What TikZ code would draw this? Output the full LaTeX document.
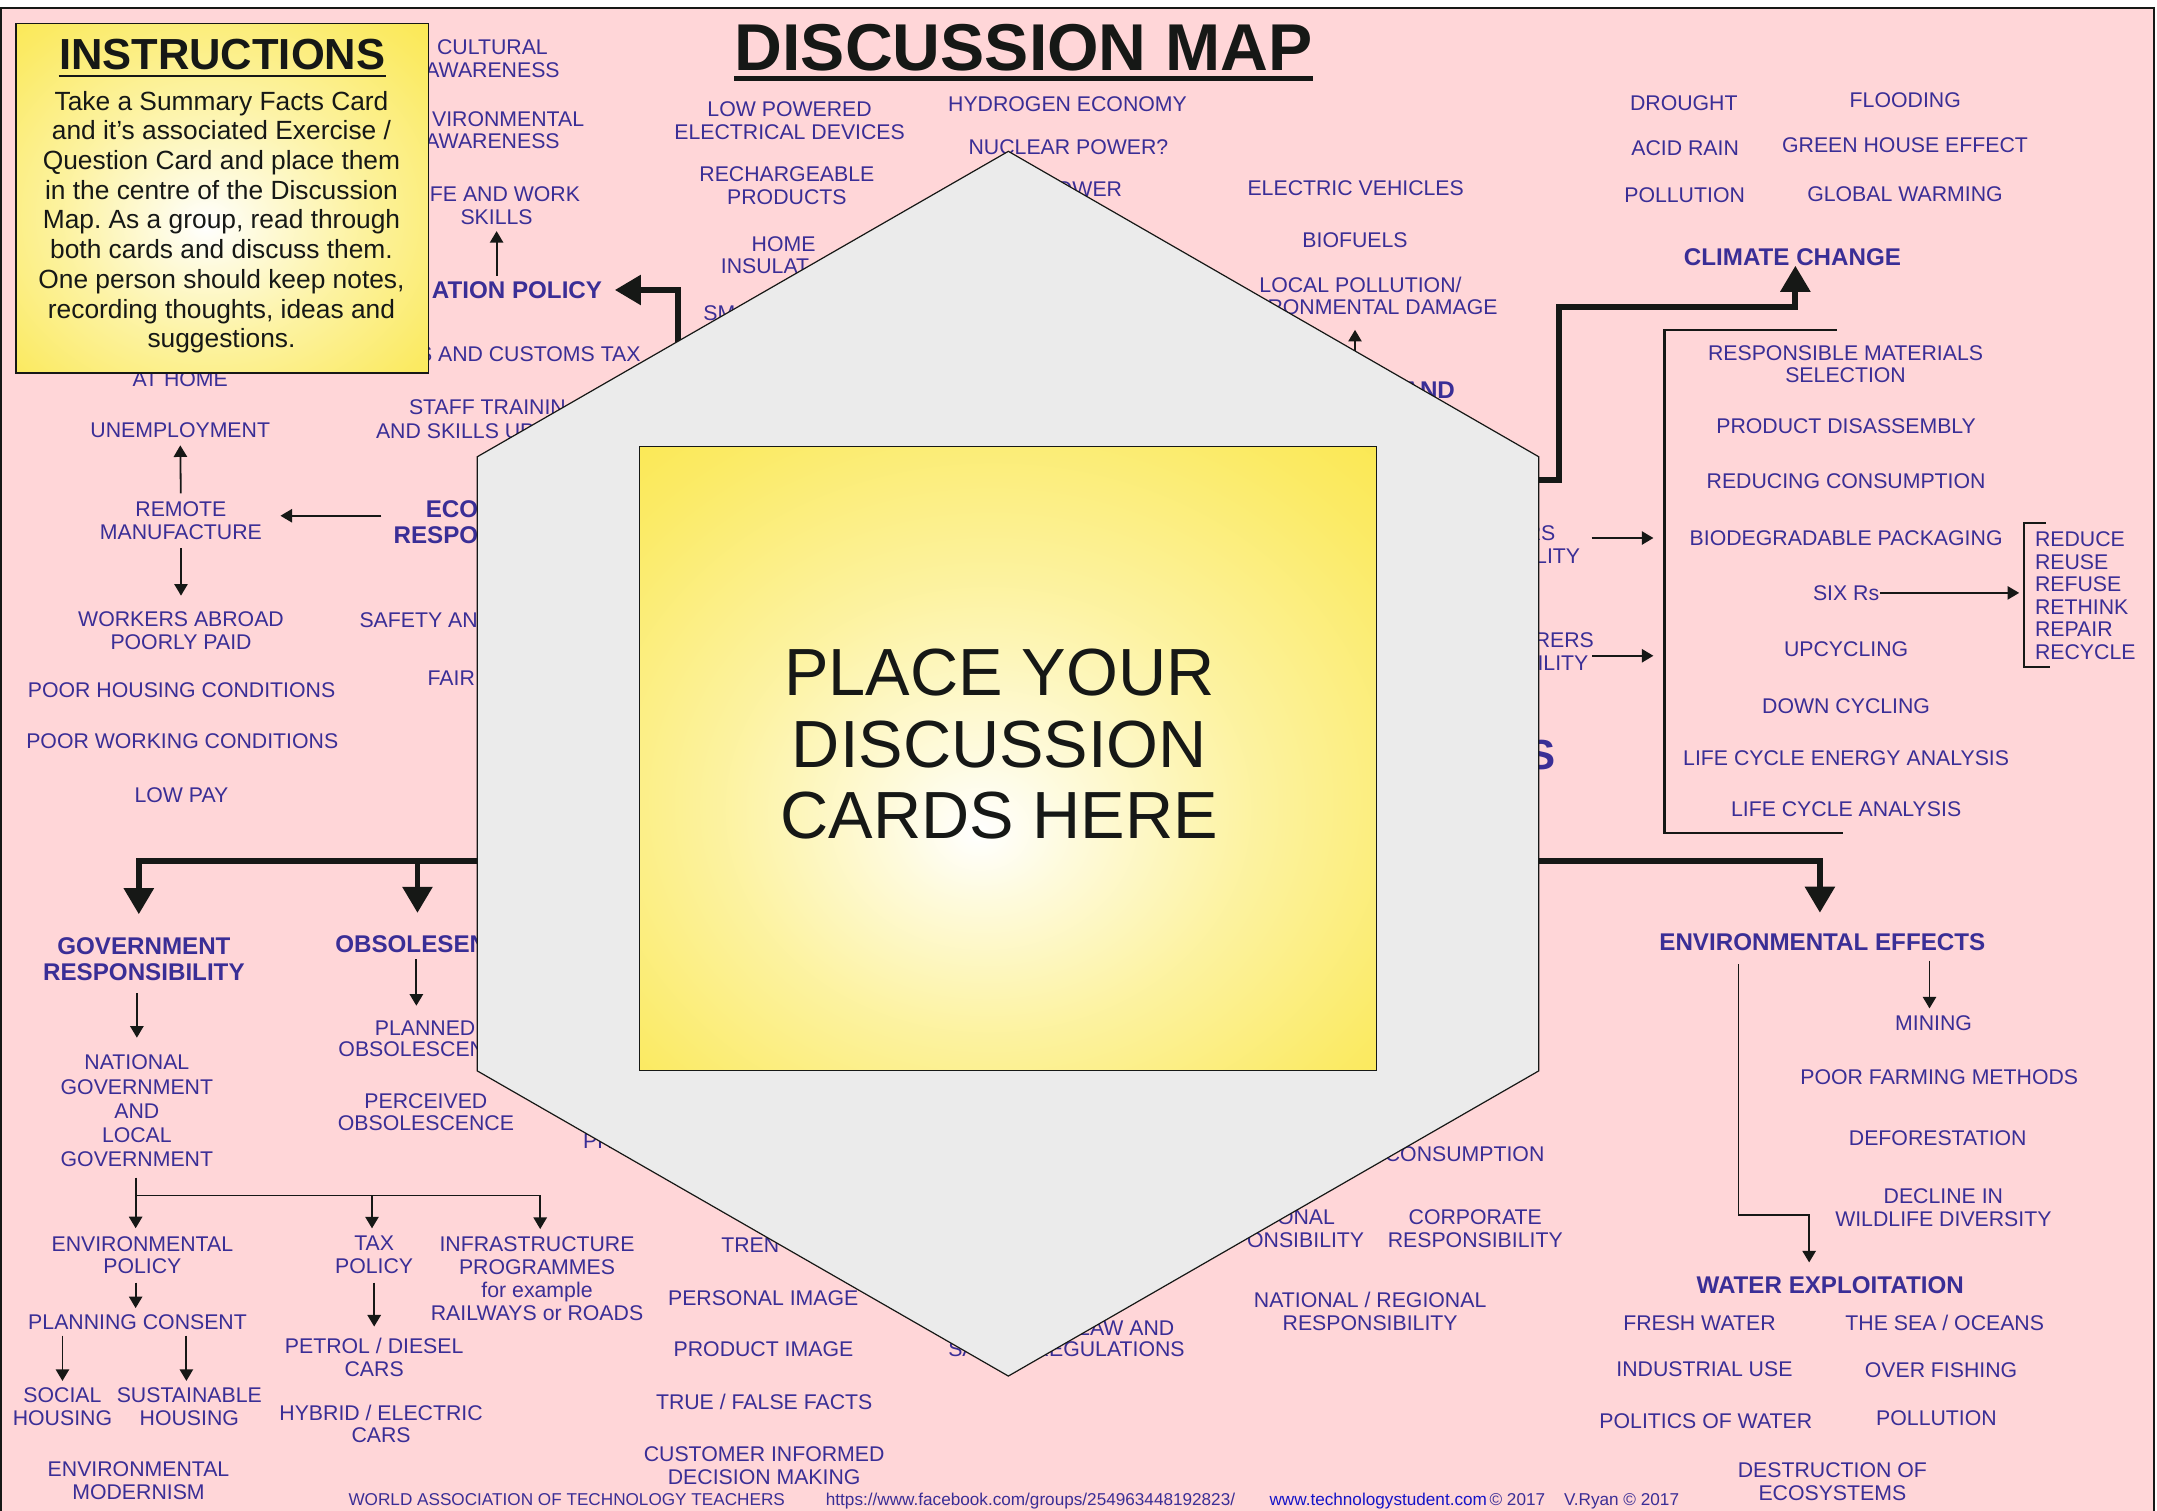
\documentclass[tikz,border=0pt]{standalone}
\usepackage{fontspec}
\setmainfont{Liberation Sans}
\usepackage{xcolor}
\usetikzlibrary{positioning}
\usetikzlibrary{arrows.meta}

\definecolor{mapblue}{RGB}{58,46,150}
\definecolor{mappink}{RGB}{255,214,216}
\definecolor{hexgrey}{RGB}{235,235,235}
\definecolor{cardyellow}{RGB}{249,225,30}
\definecolor{inkblack}{RGB}{22,24,22}
\definecolor{linkblue}{RGB}{20,20,200}

\pgfdeclareradialshading{cardglow}{\pgfpoint{-2bp}{-6bp}}{color(0bp)=(white); color(6bp)=(cardyellow!15); color(18bp)=(cardyellow!42); color(32bp)=(cardyellow!68); color(45bp)=(cardyellow!88); color(56bp)=(cardyellow)}
\pgfdeclareradialshading{notesglow}{\pgfpoint{-2bp}{-4bp}}{color(0bp)=(white); color(6bp)=(cardyellow!15); color(18bp)=(cardyellow!42); color(32bp)=(cardyellow!68); color(45bp)=(cardyellow!88); color(56bp)=(cardyellow)}

\begin{document}
\frenchspacing
\begin{tikzpicture}[x=0.02cm, y=-0.02cm,
    word/.style={text=mapblue, font=\fontsize{8.8}{9.4}\selectfont, align=center, inner sep=0pt},
    topic/.style={word, font=\bfseries\fontsize{10}{10.8}\selectfont},
    footnote/.style={text=mapblue, font=\fontsize{7.1}{8}\selectfont, inner sep=0pt, anchor=base west},
    link/.style={draw=inkblack, line width=0.75pt, -{Triangle[length=4.8pt,width=5.5pt]}},
    mainlink/.style={draw=inkblack, line width=2.4pt, -{Triangle[length=10.8pt,width=12pt]}},
    bracketrule/.style={draw=inkblack, line width=0.9pt}]
\useasboundingbox (0,0) rectangle (1568,1098);

% sheet
\draw[fill=mappink, draw=inkblack, line width=0.8pt] (0.4,6) rectangle (1566,1110);

% title
\node[text=inkblack, font=\bfseries\fontsize{27.4}{30}\selectfont, inner sep=0pt] (title) at (744,35) {DISCUSSION MAP};
\draw[inkblack, line width=2pt] ([yshift=-2.8pt]title.south west) -- ([yshift=-2.8pt]title.south east);

% left side
\node[word] (cultural) at (358,42.5) {CULTURAL\\AWARENESS};
\node[word, anchor=east] (envaware) at (425,86.6) {VIRONMENTAL};
\node[word] (envaware2) at (358,102.4) {AWARENESS};
\node[word, anchor=east] (lifework) at (422,141.2) {IFE AND WORK};
\node[word] (skills) at (361,157.6) {SKILLS};
\node[topic, anchor=east] (educ) at (438,210.8) {ATION POLICY};
\node[word, anchor=east] (customs) at (466,257.5) {S AND CUSTOMS TAX};
\node[word] (athome) at (131,275.5) {AT HOME};
\node[word, anchor=west] (staff) at (297,296.2) {STAFF TRAININ};
\node[word, anchor=west] (upskill) at (273,313.2) {AND SKILLS UP};
\node[word] (unemp) at (131,313) {UNEMPLOYMENT};
\node[word] (remote) at (131.5,378.3) {REMOTE\\MANUFACTURE};
\node[topic, anchor=east, align=right] (econ) at (348,379.5) {ECO\\RESPO};
\node[word] (abroad) at (131.6,458.5) {WORKERS ABROAD\\POORLY PAID};
\node[word, anchor=west] (safety) at (261,450.7) {SAFETY AN};
\node[word, anchor=west] (fair) at (310.5,492.9) {FAIR};
\node[word] (housing) at (132,501.5) {POOR HOUSING CONDITIONS};
\node[word] (working) at (132.5,538.8) {POOR WORKING CONDITIONS};
\node[word] (lowpay) at (131.9,578.3) {LOW PAY};

% top middle
\node[word] (lowpower) at (574,87.6) {LOW POWERED\\ELECTRICAL DEVICES};
\node[word] (recharge) at (572,135) {RECHARGEABLE\\PRODUCTS};
\node[word] (home) at (569.6,177.2) {HOME};
\node[word, anchor=west] (insul) at (523.7,193.8) {INSULAT};
\node[word, anchor=west] (smart) at (511,228) {SM};
\node[word] (hydrogen) at (776,76) {HYDROGEN ECONOMY};
\node[word] (nuclear) at (776.7,107) {NUCLEAR POWER?};
\node[word, anchor=east] (power) at (816,137.6) {OWER};
\node[word] (evehicle) at (985.5,136.7) {ELECTRIC VEHICLES};
\node[word] (biofuel) at (985,174.8) {BIOFUELS};
\node[word] (localpol) at (989,207) {LOCAL POLLUTION/};
\node[word, anchor=east] (envdamage) at (1089,223.6) {RONMENTAL DAMAGE};
\node[topic, anchor=east] (transport) at (1058,284) {AND};

% right of centre
\node[word, anchor=east] (consumer) at (1131,387.6) {RS};
\node[word, anchor=east] (consumer2) at (1149,404) {LITY};
\node[word, anchor=east] (maker) at (1159,465.4) {RERS};
\node[word, anchor=east] (maker2) at (1155,482) {ILITY};
\node[topic, anchor=east, font=\bfseries\fontsize{17.4}{19}\selectfont] (bigs) at (1131,549) {S};

% climate change
\node[word] (drought) at (1224,74.8) {DROUGHT};
\node[word] (flooding) at (1385,72.7) {FLOODING};
\node[word] (acidrain) at (1225,107.5) {ACID RAIN};
\node[word] (greenhouse) at (1384.8,105.2) {GREEN HOUSE EFFECT};
\node[word] (pollution) at (1224.6,142.1) {POLLUTION};
\node[word] (warming) at (1384.8,140.9) {GLOBAL WARMING};
\node[topic] (climate) at (1303,186.6) {CLIMATE CHANGE};

% materials panel
\node[word] (rms) at (1341.6,264.7) {RESPONSIBLE MATERIALS\\SELECTION};
\node[word] (disassembly) at (1342,309.6) {PRODUCT DISASSEMBLY};
\node[word] (reducing) at (1342,350) {REDUCING CONSUMPTION};
\node[word] (biodeg) at (1342,391) {BIODEGRADABLE PACKAGING};
\node[word] (sixrs) at (1342,431) {SIX Rs};
\node[word] (upcycle) at (1342,472) {UPCYCLING};
\node[word] (downcycle) at (1342,513) {DOWN CYCLING};
\node[word] (lcea) at (1342,551) {LIFE CYCLE ENERGY ANALYSIS};
\node[word] (lca) at (1342,588) {LIFE CYCLE ANALYSIS};
\node[word, anchor=west, align=left, font=\fontsize{8.8}{9.33}\selectfont] (rlist) at (1479,433) {REDUCE\\REUSE\\REFUSE\\RETHINK\\REPAIR\\RECYCLE};
\draw[bracketrule] (1335,240) -- (1210,240) -- (1210,605.5) -- (1340,605.5);
\draw[bracketrule] (1487,380) -- (1471.3,380) -- (1471.3,485) -- (1490.5,485);
\coordinate (panelline) at (1210,430);
\coordinate (rsbracket) at (1471.3,431);

% government
\node[topic] (govt) at (104.6,697) {GOVERNMENT\\RESPONSIBILITY};
\node[word, font=\fontsize{8.8}{10}\selectfont] (natgov) at (99.5,807.6) {NATIONAL\\GOVERNMENT\\AND\\LOCAL\\GOVERNMENT};
\node[word] (envpol) at (103.5,912.4) {ENVIRONMENTAL\\POLICY};
\node[word] (planning) at (100,960.8) {PLANNING CONSENT};
\node[word] (social) at (45.4,1022.5) {SOCIAL\\HOUSING};
\node[word] (sustain) at (137.6,1022.5) {SUSTAINABLE\\HOUSING};
\node[word] (modern) at (100.7,1076.3) {ENVIRONMENTAL\\MODERNISM};
\node[word] (taxpol) at (272,912.4) {TAX\\POLICY};
\node[word] (petrol) at (272,986.7) {PETROL / DIESEL\\CARS};
\node[word] (hybrid) at (277,1035) {HYBRID / ELECTRIC\\CARS};
\node[word] (infra) at (390.4,929.5) {INFRASTRUCTURE\\PROGRAMMES\\for example\\RAILWAYS or ROADS};

% obsolescence and image
\node[topic, anchor=west] (obsol) at (243.4,686) {OBSOLESEN};
\node[word] (planned) at (309,747.3) {PLANNED};
\node[word, anchor=west] (planned2) at (245.7,763) {OBSOLESCEN};
\node[word] (perceived) at (309.6,808.4) {PERCEIVED\\OBSOLESCENCE};
\node[word, anchor=west] (pr) at (423.5,829.5) {PR};
\node[word, anchor=west] (trend) at (524,905.5) {TREN};
\node[word] (personal) at (554.8,943.5) {PERSONAL IMAGE};
\node[word] (prodimage) at (555,981) {PRODUCT IMAGE};
\node[word] (truefalse) at (555.5,1019) {TRUE / FALSE FACTS};
\node[word] (informed) at (555.5,1065.2) {CUSTOMER INFORMED\\DECISION MAKING};
\node[word, anchor=west] (sa) at (689,981) {SA};
\node[word, anchor=east] (law) at (854,965.6) {LAW AND};
\node[word, anchor=east] (regs) at (861.5,981) {REGULATIONS};
\node[word, anchor=east] (consump) at (1123,839) {CONSUMPTION};
\node[word, anchor=east] (personresp) at (970.8,884.8) {ONAL};
\node[word, anchor=east] (personresp2) at (992,901.3) {ONSIBILITY};
\node[word] (corporate) at (1072.4,893) {CORPORATE\\RESPONSIBILITY};
\node[word] (natreg) at (996,953.5) {NATIONAL / REGIONAL\\RESPONSIBILITY};

% environmental effects
\node[topic] (enveffects) at (1324.7,685) {ENVIRONMENTAL EFFECTS};
\node[word] (mining) at (1405.6,743.8) {MINING};
\node[word] (farming) at (1409.7,783) {POOR FARMING METHODS};
\node[word] (deforest) at (1408.6,827.6) {DEFORESTATION};
\node[word] (decline) at (1412.7,877.8) {DECLINE IN\\WILDLIFE DIVERSITY};
\node[topic] (water) at (1330.4,934.3) {WATER EXPLOITATION};
\node[word] (fresh) at (1235.4,962) {FRESH WATER};
\node[word] (sea) at (1413.7,962) {THE SEA / OCEANS};
\node[word] (industrial) at (1239,995.3) {INDUSTRIAL USE};
\node[word] (overfish) at (1411,996) {OVER FISHING};
\node[word] (politics) at (1240,1032.8) {POLITICS OF WATER};
\node[word] (waterpol) at (1407.7,1031) {POLLUTION};
\node[word] (ecosys) at (1332,1077) {DESTRUCTION OF\\ECOSYSTEMS};

% footer
\node[footnote] (waatt) at (253,1094.5) {WORLD ASSOCIATION OF TECHNOLOGY TEACHERS};
\node[footnote] (fburl) at (600,1094.5) {https://www.facebook.com/groups/254963448192823/};
\node[footnote] (site) at (922.5,1094.5) {\textcolor{linkblue}{\underline{www.technologystudent.com}}\hspace{0.15em}© 2017\hspace{1.1em}V.Ryan © 2017};

% thin connectors
\draw[link, shorten <=2.2pt, shorten >=2.6pt] (skills.south |- educ.north) -- (skills.south);
\draw[link, shorten <=3.2pt, shorten >=2.8pt] (remote.north) -- (unemp.south);
\draw[link, shorten <=3.5pt, shorten >=6.5pt] (remote.south) -- (abroad.north);
\draw[link, shorten >=7.5pt] ([xshift=-4.9pt,yshift=2.6pt]econ.west) coordinate (ecoarrow) -- (ecoarrow -| remote.east);
\coordinate (transfoot) at (985,262);
\draw[link, shorten >=5.9pt] (transfoot) -- (transfoot |- envdamage.south);
\draw[link, shorten >=4.6pt] ([shift={(26,3.5)}]consumer.east) coordinate (consarrow) -- (consarrow -| panelline);
\draw[link, shorten >=4.6pt] ([shift={(-1.5,11.3)}]maker.east) coordinate (makearrow) -- (makearrow -| panelline);
\draw[link, shorten >=2pt] (sixrs.east) -- (rsbracket);

\draw[link, shorten <=5.1pt, shorten >=7pt] (natgov.north |- govt.south) -- (natgov.north);
\coordinate (govfork) at (98.6,869);
\draw[link, -, shorten <=4.3pt] (natgov.south -| govfork) -- (govfork);
\draw[link, shorten >=3.1pt] (govfork) -- (govfork |- envpol.north);
\draw[link, shorten >=3.1pt] (govfork) -| ([xshift=-0.9pt]taxpol.north);
\draw[link, shorten >=3.1pt] (govfork) -| ([xshift=1.3pt]infra.north);
\draw[link, shorten <=3.4pt, shorten >=2.3pt] (envpol.south -| govfork) -- (planning.north -| govfork);
\draw[link, shorten <=2.4pt, shorten >=2.6pt] (planning.south -| social.north) -- (social.north);
\draw[link, shorten <=2.4pt, shorten >=2.6pt] ([xshift=-1.2pt]planning.south -| sustain.north) -- ([xshift=-1.2pt]sustain.north);
\draw[link, shorten <=3.4pt, shorten >=4.6pt] (taxpol.south -| petrol.north) -- (petrol.north);
\draw[link, shorten <=2.7pt, shorten >=6pt] ([xshift=-3.6pt]planned.north |- obsol.south) -- ([xshift=-3.6pt]planned.north);

\coordinate (waterbend) at (1263.7,883);
\draw[link, shorten <=5.3pt, shorten >=5.7pt] (enveffects.south -| waterbend) -- (waterbend) -| ([xshift=-8.7pt]water.north);
\draw[link, shorten <=3.8pt, shorten >=2.8pt] ([xshift=-1.7pt]enveffects.south -| mining.north) -- ([xshift=-1.7pt]mining.north);

% thick connectors from the centre
\coordinate (educfoot) at (493,254);
\coordinate (climfoot) at (1110,349);
\coordinate (climbend) at (1133.5,223);
\coordinate (leftfoot) at (356,626);
\coordinate (rightfoot) at (1110,626);
\draw[mainlink, shorten >=5.1pt] (educfoot) |- (educ.east);
\draw[mainlink] (climfoot) -| (climbend) -| ([xshift=1.2pt]climate.south);
\draw[mainlink, shorten >=9.3pt] (leftfoot) -| ([xshift=-2.1pt]govt.north);
\draw[mainlink, shorten >=9pt] (leftfoot) -| ([xshift=2.6pt]obsol.north);
\draw[mainlink, shorten >=8.5pt] (rightfoot) -| ([xshift=-1pt]enveffects.north);

% centre hexagon
\coordinate (hexT) at (733,110);
\coordinate (hexUR) at (1118.5,332);
\coordinate (hexLR) at (1118.5,778.5);
\coordinate (hexB) at (733,1000.3);
\coordinate (hexLL) at (347,778.5);
\coordinate (hexUL) at (347,332);
\filldraw[fill=hexgrey, draw=inkblack, line width=0.5pt] (hexT) -- (hexUR) -- (hexLR) -- (hexB) -- (hexLL) -- (hexUL) -- cycle;

% card
\shadedraw[shading=cardglow, draw=inkblack, line width=0.6pt] (465,324.4) rectangle (1000.6,778);
\node[text=inkblack, font=\fontsize{27.6}{29.6}\selectfont, align=center, inner sep=0pt] (cardtext) at (726.5,541) {PLACE YOUR\\DISCUSSION\\CARDS HERE};

% instructions
\shadedraw[shading=notesglow, draw=inkblack, line width=0.6pt] (11.5,17) rectangle (311.5,271);
\node[text=inkblack, font=\bfseries\fontsize{18}{20}\selectfont, inner sep=0pt] (insttitle) at (161.5,39.8) {INSTRUCTIONS};
\draw[inkblack, line width=1.1pt] ([yshift=-2.2pt]insttitle.south west) -- ([yshift=-2.2pt]insttitle.south east);
\node[text=inkblack, font=\fontsize{10.9}{12.3}\selectfont, align=center, inner sep=0pt] (instbody) at (161,161.5)
  {Take a Summary Facts Card\\and it’s associated Exercise /\\Question Card and place them\\in the centre of the Discussion\\Map. As a group, read through\\both cards and discuss them.\\One person should keep notes,\\recording thoughts, ideas and\\suggestions.};
\end{tikzpicture}
\end{document}
